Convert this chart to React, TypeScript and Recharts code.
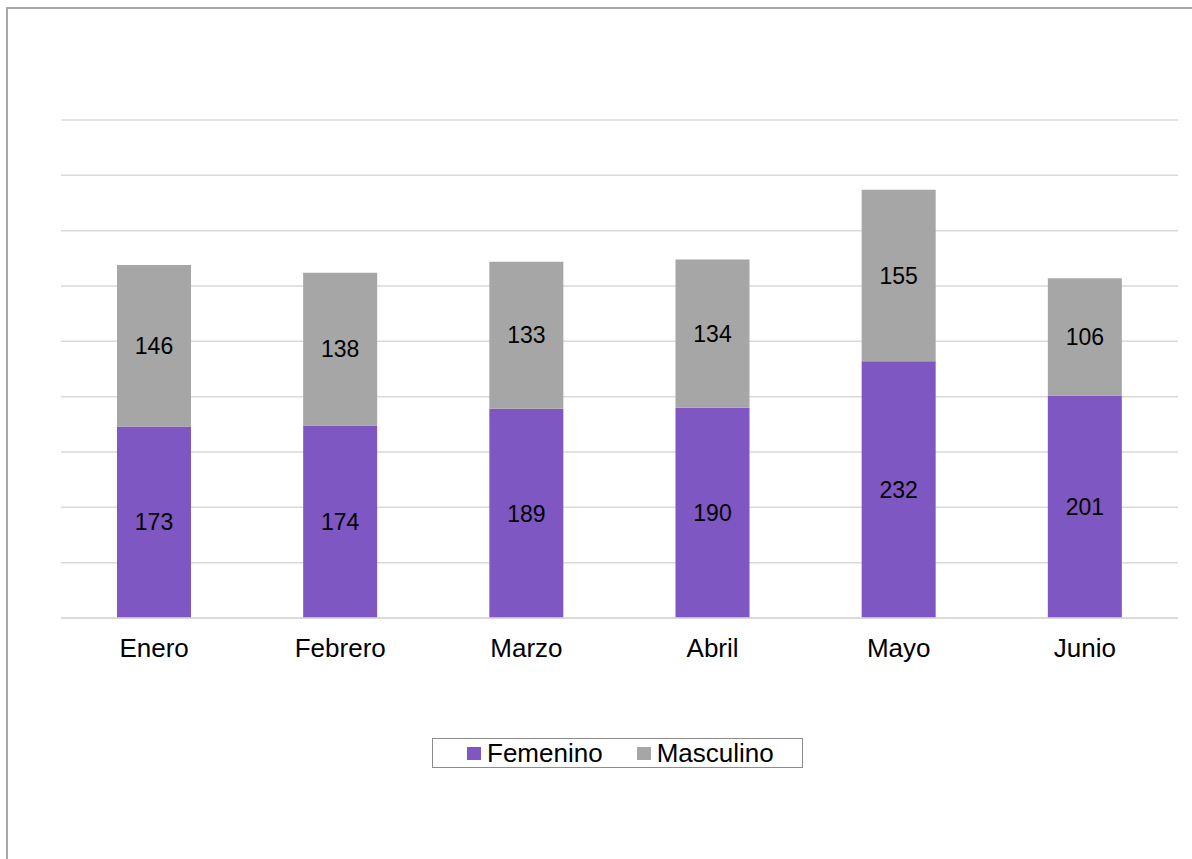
import React from 'react';
import { BarChart, Bar, XAxis, YAxis, CartesianGrid, LabelList } from 'recharts';

const months = ['Enero', 'Febrero', 'Marzo', 'Abril', 'Mayo', 'Junio'];
const femenino = [173, 174, 189, 190, 232, 201];
const masculino = [146, 138, 133, 134, 155, 106];
const yTicks = [0, 50, 100, 150, 200, 250, 300, 350, 400, 450];

const data = months.map((name, i) => ({
  name,
  femenino: femenino[i],
  masculino: masculino[i],
}));

const FONT = '"Liberation Sans", Arial, Helvetica, sans-serif';
const PURPLE = '#7e57c2';
const GRAY = '#a6a6a6';

export default function App() {
  return (
    <div style={{ position: 'absolute', left: 0, top: 0, width: 1192, height: 859, overflow: 'hidden', background: '#fff', fontFamily: FONT }}>
      {/* marco del gráfico (cortado a la derecha y abajo) */}
      <div
        style={{
          position: 'absolute',
          left: 6,
          top: 7,
          width: 1300,
          height: 1000,
          borderTop: `2px solid ${GRAY}`,
          borderLeft: `2px solid ${GRAY}`,
        }}
      />
      <div style={{ position: 'absolute', left: 0, top: 0 }}>
        <BarChart
          width={1192}
          height={859}
          data={data}
          margin={{ top: 120, right: 14, left: 61, bottom: 201 }}
          barSize={74}
        >
          <CartesianGrid vertical={false} stroke="#d9d9d9" strokeWidth={1.5} />
          <YAxis hide domain={[0, 450]} ticks={yTicks} />
          <XAxis
            dataKey="name"
            height={40}
            axisLine={{ stroke: '#d9d9d9', strokeWidth: 1.5 }}
            tickLine={false}
            tickSize={6}
            tickMargin={15}
            tick={{ fill: '#000', fontSize: 26, fontFamily: FONT }}
          />
          <Bar dataKey="femenino" stackId="a" fill={PURPLE} isAnimationActive={false}>
            <LabelList dataKey="femenino" position="center" fill="#000" fontSize={23} fontFamily={FONT} />
          </Bar>
          <Bar dataKey="masculino" stackId="a" fill={GRAY} isAnimationActive={false}>
            <LabelList dataKey="masculino" position="center" fill="#000" fontSize={23} fontFamily={FONT} />
          </Bar>
        </BarChart>
      </div>
      {/* leyenda */}
      <div
        style={{
          position: 'absolute',
          left: 432,
          top: 738,
          width: 371,
          height: 30,
          boxSizing: 'border-box',
          border: '1.5px solid #8c8c8c',
          display: 'flex',
          alignItems: 'center',
          fontSize: 26,
          color: '#000',
          lineHeight: '30px',
        }}
      >
        <span style={{ display: 'inline-block', width: 14, height: 13, background: PURPLE, marginLeft: 34, marginRight: 6 }} />
        <span>Femenino</span>
        <span style={{ display: 'inline-block', width: 14, height: 13, background: GRAY, marginLeft: 34, marginRight: 6 }} />
        <span>Masculino</span>
      </div>
    </div>
  );
}
